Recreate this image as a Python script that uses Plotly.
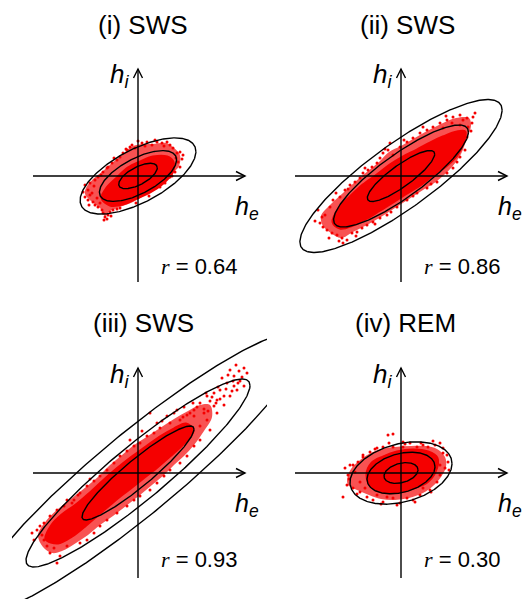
import numpy as np
import plotly.graph_objects as go

# ---------------------------------------------------------------------------
# Panel data: (h_e, h_i) units on a common scale, origin at the axis crossing
# ---------------------------------------------------------------------------
titles = ["(i) SWS", "(ii) SWS", "(iii) SWS", "(iv) REM"]
r_values = [0.64, 0.86, 0.93, 0.30]
sigma_e = [19.3, 33.7, 56.0, 17.0]
sigma_i = [12.7, 25.5, 47.0, 10.4]
contour_levels = [1, 2, 3]

# dense core of each cloud (outline of the solid region)
core1_he = [-36, -31, -21, -10, 2, 15, 29, 35, 34, 25, 12, -1, -15, -28]
core1_hi = [-22, -12, -2, 8, 14, 19, 19, 14, 3, -7, -16, -22, -28, -29]
core2_he = [-68, -61, -51, -38, -24, -11, 2, 16, 29, 42, 56, 64, 62, 56, 46, 32, 19, 6, -8, -21, -34, -48, -61]
core2_hi = [-46, -31, -21, -9, 1, 11, 19, 26, 33, 39, 44, 44, 33, 21, 11, 1, -9, -17, -26, -34, -42, -49, -52]
core3_he = [-92, -86, -76, -62, -48, -34, -20, -6, 8, 22, 36, 48, 55, 46, 32, 18, 4, -10, -24, -38, -52, -66, -80]
core3_hi = [-66, -52, -42, -32, -20, -7, 5, 16, 26, 36, 44, 49, 42, 30, 17, 5, -6, -17, -28, -40, -52, -63, -70]
core4_he = [-34, -29, -18, -4, 12, 27, 36, 34, 26, 12, -1, -18, -29]
core4_hi = [-2, 10, 16, 21, 23, 21, 15, 1, -9, -15, -19, -19, -14]

# outline of the speckled fringe around each core
fringe1_he = [-52, -45, -35, -25, -15, -7, 4, 15, 28, 36, 42, 41, 35, 25, 12, -5, -18, -28, -33, -38, -47, -53]
fringe1_hi = [-12, -3, 5, 14, 22, 29, 32, 32, 33, 28, 21, 10, 3, -8, -16, -26, -31, -35, -40, -32, -25, -18]
fringe2_he = [-80, -70, -58, -45, -33, -22, -12, 0, 12, 26, 40, 55, 68, 70, 66, 60, 50, 36, 22, 8, -6, -20, -34, -48, -60, -70, -78]
fringe2_hi = [-40, -28, -17, -5, 5, 14, 24, 30, 37, 45, 52, 58, 58, 50, 38, 22, 8, -5, -14, -23, -32, -41, -49, -56, -62, -57, -50]
fringe3_he = [-100, -92, -80, -66, -52, -40, -28, -16, -4, 10, 22, 36, 50, 62, 72, 74, 66, 56, 46, 36, 26, 14, 2, -12, -25, -38, -50, -62, -76, -86, -95]
fringe3_hi = [-62, -48, -36, -25, -14, -4, 8, 18, 28, 37, 45, 54, 62, 68, 68, 56, 42, 28, 17, 8, -2, -12, -22, -33, -43, -52, -62, -70, -78, -80, -74]
fringe4_he = [-54, -50, -42, -32, -20, -6, 10, 25, 36, 44, 45, 40, 32, 22, 8, -6, -20, -32, -44, -52]
fringe4_hi = [-8, 4, 12, 19, 24, 26, 27, 27, 24, 16, 6, -4, -13, -20, -25, -27, -26, -22, -17, -13]

# sparse samples scattered around each cloud
pts1_he = [-53, -50, -48, -43, -40, -35, -31, -26, -21, -18, -15, -11, -8, -6, -3, 4, 9, 14, 19, 24,
           29, 32, 35, 39, 42, 45, 40, 42, 37, -55, -53, -50, -48, -45, -43, -40, -41, -36, -35, -33,
           -31, -30, -28, -25, -21, -18, -38, -46, 32, 27, 22, -44, -37, -30, -24, -12, 0, 7, 17, 26,
           38, 44, -2, 11, 34, -49, -34, -27]
pts1_hi = [-9, -14, -7, -4, -1, 4, 8, 13, 16, 19, 23, 26, 29, 31, 28, 33, 34, 31, 34, 33,
           34, 31, 28, 23, 24, 21, 14, 9, 4, -16, -21, -24, -19, -26, -29, -31, -22, -34, -37, -41,
           -43, -39, -36, -34, -33, -32, -27, -17, -1, -7, -11, -10, 1, 9, 18, 27, 35, 30, 36, 30,
           18, 17, -27, -20, 0, -29, -44, -40]
pts2_he = [-83, -81, -76, -71, -68, -61, -56, -51, -46, -41, -38, -33, -29, -24, -21, -18, -13, -11, -8, -1,
           6, 12, 19, 26, 32, 39, 46, 52, 59, 66, 71, 72, 67, 59, 51, 42, 66, 64, 59, -74,
           -69, -64, -59, -54, -58, -49, -44, -39, -34, -28, -21, -14, -79, -78, -4, 6, 16, 26, 36, 46,
           52, -86, -65, -53, -36, -16, 3, 22, 45, 62, 70, 74, -72, -62, -45, -26, -10, 12, 30, 56]
pts2_hi = [-34, -47, -39, -31, -24, -21, -14, -9, -6, -2, 3, 6, 9, 13, 18, 23, 26, 33, 21, 29,
           34, 38, 43, 46, 49, 53, 56, 59, 61, 58, 53, 59, 49, 51, 53, 48, 39, 26, 19, -54,
           -57, -59, -62, -64, -67, -57, -56, -52, -49, -46, -42, -39, -41, -51, -31, -24, -17, -12, -6, 3,
           8, -45, -17, -13, 8, 27, 36, 49, 60, 56, 45, 63, -62, -65, -60, -48, -36, -20, -8, 14]
pts3_he = [92, 96, 101, 106, 109, 102, 96, 89, 82, 76, 69, 62, 79, 86, 99, 106, 92, 76, 66, 56,
           69, 79, 62, 72, 56, 49, 42, 32, 22, 16, 9, 2, -4, -11, -18, -24, -31, -38, -44, -51,
           -58, -64, 12, 19, 39, 29, 62, 56, 49, 42, 32, 26, 19, 12, 2, -4, -11, -21, -31, -38,
           -44, -51, -58, -71, -78, -81, -104, -101, -98, -94, -91, -88, -84, -94, -88, -81, -74, -71,
           84, 88, 95, 78, 72, 66, 59, 52, 45, 104, 98, 90, 82, 74, 68, 86, 94, 100, 80, 70,
           -8, 4, 24, 36, 46, 55, -96, -86, -106, -66, -60, -48]
pts3_hi = [103, 97, 102, 105, 100, 92, 87, 90, 83, 80, 77, 70, 73, 77, 83, 87, 77, 67, 60, 57,
           53, 60, 47, 43, 63, 58, 53, 50, 45, 40, 37, 30, 27, 22, 17, 10, 3, -3, -8, -13,
           -20, -27, 60, 50, 63, 57, 33, 27, 17, 10, 3, -3, -10, -17, -23, -27, -33, -40, -47, -53,
           -60, -67, -70, -73, -83, -90, -67, -57, -53, -67, -73, -80, -75, -50, -43, -37, -33, -27,
           95, 84, 92, 70, 72, 64, 66, 60, 56, 96, 108, 98, 74, 76, 80, 68, 82, 90, 86, 62,
           33, 42, 52, 60, 66, 70, -62, -56, -60, -30, -22, -6]
pts4_he = [-13, -8, 2, 9, 22, 32, 39, 42, 46, 47, 44, 39, 36, 29, 19, 14, 6, -1, -8, -18,
           -24, -34, -41, -48, -54, -56, -51, -46, -53, -43, -38, -31, -24, -18, -8, 2, 16, 27, -41, -36,
           -28, -14, 22, 39, -58, -48, -38, -26, -12, 4, 20, 34, 42, 30, 12, -4, -20, -44, -52, 48]
pts4_hi = [38, 39, 31, 30, 28, 32, 30, 25, 18, 11, 5, -2, -9, -17, -22, -29, -25, -30, -25, -29,
           -22, -24, -19, -15, -12, 5, 8, 1, -2, 11, 16, 21, 25, 26, 26, 26, 26, 26, -9, -15,
           -27, -24, -15, 8, -24, 8, 18, 24, 30, 29, 30, 28, 20, -19, -27, -32, -31, -21, -6, 3]

cores = [(core1_he, core1_hi), (core2_he, core2_hi), (core3_he, core3_hi), (core4_he, core4_hi)]
fringes = [(fringe1_he, fringe1_hi), (fringe2_he, fringe2_hi), (fringe3_he, fringe3_hi), (fringe4_he, fringe4_hi)]
points = [(pts1_he, pts1_hi), (pts2_he, pts2_hi), (pts3_he, pts3_hi), (pts4_he, pts4_hi)]

# ---------------------------------------------------------------------------
W, H = 524, 599
RED = "rgb(245,0,0)"
FRINGE = "rgba(245,0,0,0.68)"
AX_LEN = [(105, 107, 107, 106), (106, 106, 107, 106), (105, 107, 105, 105), (106, 106, 105, 105)]

# each panel: pixel box (left, right, top, bottom), origin and title centre in pixels
panels = [
    dict(box=(0, 262, 0, 299), origin=(138, 176), title_xy=(143, 25)),
    dict(box=(262, 524, 0, 299), origin=(401, 176), title_xy=(407, 25)),
    dict(box=(12, 267, 300, 599), origin=(138, 473), title_xy=(143, 323)),
    dict(box=(262, 524, 300, 599), origin=(401, 473), title_xy=(405, 323)),
]


def paper(px, py):
    """Pixel position on the page -> paper coordinates."""
    return px / W, 1 - py / H


fig = go.Figure()
layout_axes = {}
shapes = []

for i, p in enumerate(panels):
    left, right, top, bottom = p["box"]
    ox, oy = p["origin"]
    n = "" if i == 0 else str(i + 1)
    xa, ya = "x" + n, "y" + n
    layout_axes["xaxis" + n] = dict(domain=[left / W, right / W], range=[left - ox, right - ox],
                                    visible=False, fixedrange=True, anchor=ya)
    layout_axes["yaxis" + n] = dict(domain=[1 - bottom / H, 1 - top / H], range=[oy - bottom, oy - top],
                                    visible=False, fixedrange=True, anchor=xa)

    fe, fi = fringes[i]
    fig.add_trace(go.Scatter(x=fe + fe[:1], y=fi + fi[:1], mode="lines", fill="toself",
                             fillcolor=FRINGE, line=dict(color="rgba(0,0,0,0)", width=0, shape="spline"),
                             xaxis=xa, yaxis=ya, hoverinfo="skip", showlegend=False))
    ce, ci = cores[i]
    fig.add_trace(go.Scatter(x=ce + ce[:1], y=ci + ci[:1], mode="lines", fill="toself",
                             fillcolor=RED, line=dict(color=RED, width=3, shape="spline"),
                             xaxis=xa, yaxis=ya, hoverinfo="skip", showlegend=False))
    pe, pi = points[i]
    fig.add_trace(go.Scatter(x=pe, y=pi, mode="markers", marker=dict(color=RED, size=3),
                             xaxis=xa, yaxis=ya, hoverinfo="skip", showlegend=False))

    # Gaussian contour ellipses at 1, 2 and 3 standard deviations
    r, se, si = r_values[i], sigma_e[i], sigma_i[i]
    t = np.linspace(0, 2 * np.pi, 361)
    for k in contour_levels:
        ex = k * se * np.cos(t)
        ey = k * si * (r * np.cos(t) + np.sqrt(1 - r * r) * np.sin(t))
        fig.add_trace(go.Scatter(x=ex, y=ey, mode="lines", line=dict(color="black", width=1.4),
                                 xaxis=xa, yaxis=ya, hoverinfo="skip", showlegend=False))

    # coordinate axes with open arrowheads
    x0, x1, ytop, ybot = AX_LEN[i]
    line = dict(color="black", width=1.4)
    shapes.append(dict(type="line", xref=xa, yref=ya, x0=-x0, x1=x1, y0=0, y1=0, line=line))
    shapes.append(dict(type="line", xref=xa, yref=ya, x0=0, x1=0, y0=-ybot, y1=ytop, line=line))
    shapes.append(dict(type="path", xref=xa, yref=ya, line=line,
                       path="M %d,4.5 L %d,0 L %d,-4.5" % (x1 - 9, x1, x1 - 9)))
    shapes.append(dict(type="path", xref=xa, yref=ya, line=line,
                       path="M -4.5,%d L 0,%d L 4.5,%d" % (ytop - 9, ytop, ytop - 9)))

    # text, placed on the page
    tx, ty = paper(*p["title_xy"])
    fig.add_annotation(x=tx, y=ty, xref="paper", yref="paper", xanchor="center", yanchor="middle",
                       text=titles[i], showarrow=False,
                       font=dict(family="Liberation Sans", size=26, color="black"))
    hx, hy = paper(ox - 7, oy - ytop + 7)
    fig.add_annotation(x=hx, y=hy, xref="paper", yref="paper", xanchor="right", yanchor="middle",
                       text="<i>h</i><sub><i>i</i></sub>", showarrow=False,
                       font=dict(family="Liberation Sans", size=26, color="black"))
    ex_, ey_ = paper(ox + 123, oy + 32)
    fig.add_annotation(x=ex_, y=ey_, xref="paper", yref="paper", xanchor="right", yanchor="middle",
                       text="<i>h</i><sub><i>e</i></sub>", showarrow=False,
                       font=dict(family="Liberation Sans", size=25, color="black"))
    rx, ry = paper(ox + 21, oy + (90 if i < 2 else 86))
    fig.add_annotation(x=rx, y=ry, xref="paper", yref="paper", xanchor="left", yanchor="middle",
                       text="<span style='font-family:Liberation Serif'><i>r</i></span> = %.2f" % r,
                       showarrow=False, font=dict(family="Liberation Sans", size=22, color="black"))

fig.update_layout(width=W, height=H, margin=dict(l=0, r=0, t=0, b=0),
                  font=dict(family="Liberation Sans", size=22, color="black"),
                  paper_bgcolor="white", plot_bgcolor="rgba(0,0,0,0)", shapes=shapes, **layout_axes)

fig.write_html("out.html")
